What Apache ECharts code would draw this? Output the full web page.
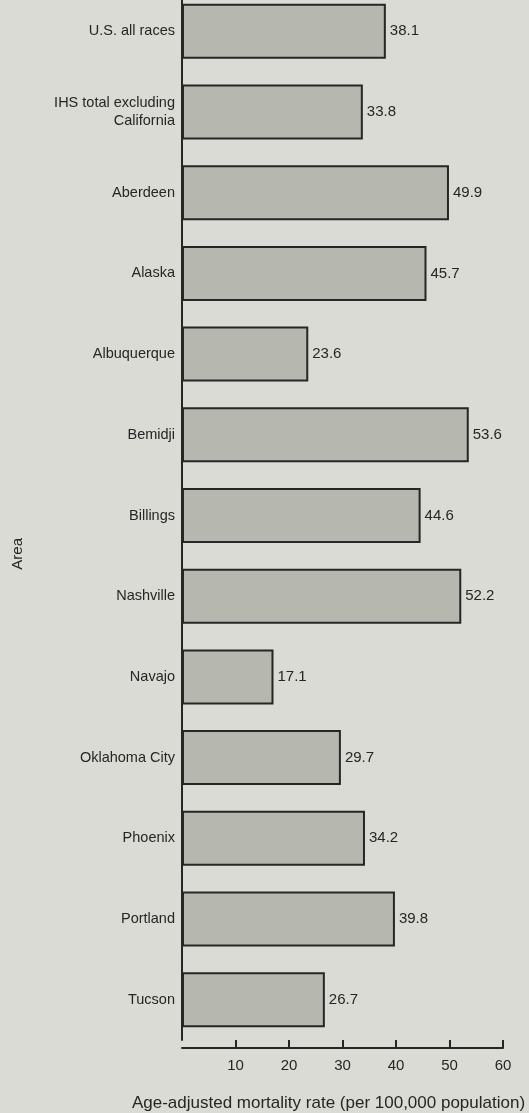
<!DOCTYPE html>
<html>
<head>
<meta charset="utf-8">
<script src="https://cdn.jsdelivr.net/npm/echarts@6/dist/echarts.min.js"></script>
<style>
  html, body { margin: 0; padding: 0; background: #d9dbd4; }
  #chart { width: 529px; height: 1113px; }
</style>
</head>
<body>
<div id="chart"></div>
<script>
  const areas = [
    'U.S. all races', 'IHS total excluding\nCalifornia', 'Aberdeen', 'Alaska',
    'Albuquerque', 'Bemidji', 'Billings', 'Nashville', 'Navajo',
    'Oklahoma City', 'Phoenix', 'Portland', 'Tucson'
  ];
  const rates = [38.1, 33.8, 49.9, 45.7, 23.6, 53.6, 44.6, 52.2, 17.1, 29.7, 34.2, 39.8, 26.7];
  const xTicks = [0, 10, 20, 30, 40, 50, 60];

  const ink = '#262626';
  const font = '"Liberation Sans", Arial, sans-serif';

  const chart = echarts.init(document.getElementById('chart'));

  chart.setOption({
    backgroundColor: '#d9dbd4',
    animation: false,
    grid: {
      left: 182, right: 26, top: -9, bottom: 73,
      containLabel: false, outerBoundsMode: 'none'
    },
    graphic: [
      {
        type: 'text',
        left: 10,
        top: 538,
        rotation: Math.PI / 2,
        style: { text: 'Area', fill: ink, font: '15px ' + font }
      }
    ],
    xAxis: {
      type: 'value',
      min: xTicks[0],
      max: xTicks[xTicks.length - 1],
      interval: 10,
      offset: 8,
      name: 'Age-adjusted mortality rate (per 100,000 population)',
      nameLocation: 'middle',
      nameGap: 47,
      nameTextStyle: { color: ink, fontSize: 17, fontFamily: font, padding: [0, 28, 0, 0] },
      axisLine: { show: true, lineStyle: { color: ink, width: 2 } },
      axisTick: { show: true, inside: true, length: 8, lineStyle: { color: ink, width: 2 } },
      axisLabel: {
        color: ink, fontSize: 15, fontFamily: font, margin: 10,
        showMinLabel: false
      },
      splitLine: { show: false }
    },
    yAxis: {
      type: 'category',
      inverse: true,
      data: areas,
      axisLine: { show: true, lineStyle: { color: ink, width: 2 } },
      axisTick: { show: false },
      axisLabel: {
        color: ink, fontSize: 14.5, fontFamily: font, margin: 7,
        lineHeight: 18, align: 'right'
      }
    },
    series: [
      {
        type: 'bar',
        data: rates,
        barWidth: 55,
        itemStyle: { color: '#b6b7af', borderColor: ink, borderWidth: 2 },
        label: {
          show: true,
          position: 'right',
          distance: 4,
          color: ink,
          fontSize: 15,
          fontFamily: font,
          formatter: p => p.value.toFixed(1)
        }
      }
    ]
  });
</script>
</body>
</html>
